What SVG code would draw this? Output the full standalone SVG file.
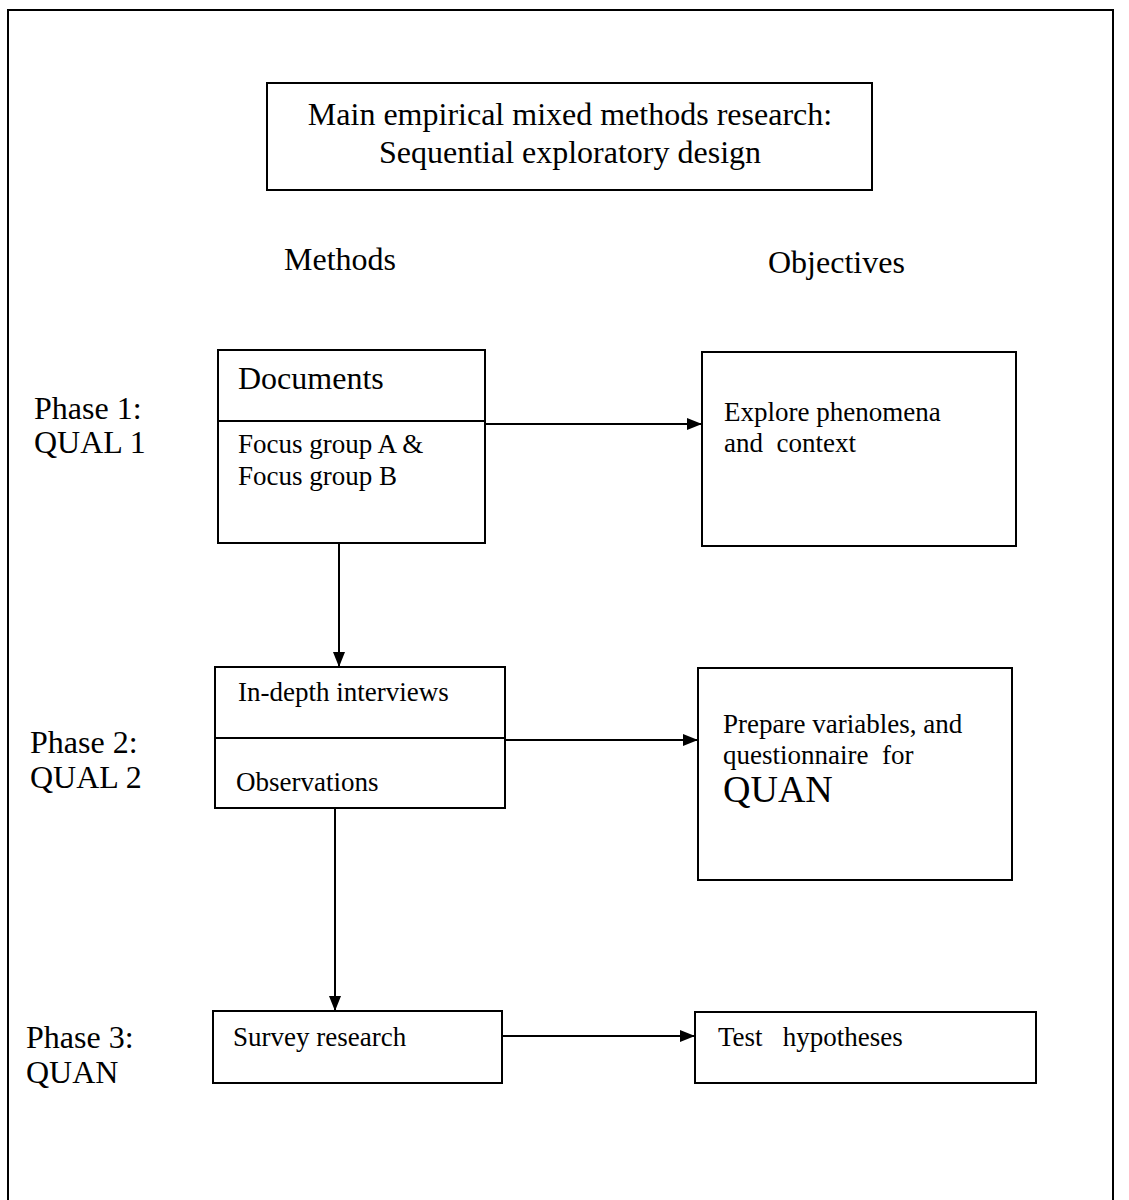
<svg xmlns="http://www.w3.org/2000/svg" width="1129" height="1200" viewBox="0 0 1129 1200">
  <defs>
    <marker id="arrow" viewBox="0 0 15 12" refX="15" refY="6" markerWidth="15" markerHeight="12" markerUnits="userSpaceOnUse" orient="auto">
      <path d="M0,0 L15,6 L0,12 Z" fill="#000"/>
    </marker>
    <style>
      text { font-family: "Liberation Serif", "Times New Roman", serif; fill: #000; }
      .box { fill: #fff; stroke: #000; stroke-width: 2; }
      .rule { stroke: #000; stroke-width: 2; }
      .edge { fill: none; stroke: #000; stroke-width: 2; marker-end: url(#arrow); }
      .big { font-size: 32px; }
      .mid { font-size: 32px; }
      .small { font-size: 27px; }
      .huge { font-size: 38px; }
    </style>
  </defs>
  <rect width="1129" height="1200" fill="#fff"/>
  <!-- outer frame, open at the bottom -->
  <path d="M8,1200 L8,10 L1113,10 L1113,1200" fill="none" stroke="#000" stroke-width="2"/>

  <g id="title">
    <rect class="box" x="267" y="83" width="605" height="107"/>
    <text class="big" x="570" y="125" text-anchor="middle">Main empirical mixed methods research:</text>
    <text class="big" x="570" y="163" text-anchor="middle">Sequential exploratory design</text>
  </g>

  <g id="headers">
    <text class="mid" x="284" y="270">Methods</text>
    <text class="mid" x="768" y="273">Objectives</text>
  </g>

  <g id="phase-labels">
    <text class="mid" x="34" y="419">Phase 1:</text>
    <text class="mid" x="34" y="453">QUAL 1</text>
    <text class="mid" x="30" y="753">Phase 2:</text>
    <text class="mid" x="30" y="788">QUAL 2</text>
    <text class="mid" x="26" y="1048">Phase 3:</text>
    <text class="mid" x="26" y="1083">QUAN</text>
  </g>

  <g id="methods-1">
    <rect class="box" x="218" y="350" width="267" height="193"/>
    <line class="rule" x1="218" y1="421" x2="485" y2="421"/>
    <text class="mid" x="238" y="389">Documents</text>
    <text class="small" x="238" y="453">Focus group A &amp;</text>
    <text class="small" x="238" y="485">Focus group B</text>
  </g>

  <g id="objective-1">
    <rect class="box" x="702" y="352" width="314" height="194"/>
    <text class="small" x="724" y="421">Explore phenomena</text>
    <text class="small" x="724" y="452" xml:space="preserve">and  context</text>
  </g>

  <g id="methods-2">
    <rect class="box" x="215" y="667" width="290" height="141"/>
    <line class="rule" x1="215" y1="738" x2="505" y2="738"/>
    <text class="small" x="238" y="701">In-depth interviews</text>
    <text class="small" x="236" y="791">Observations</text>
  </g>

  <g id="objective-2">
    <rect class="box" x="698" y="668" width="314" height="212"/>
    <text class="small" x="723" y="733">Prepare variables, and</text>
    <text class="small" x="723" y="764" xml:space="preserve">questionnaire  for</text>
    <text class="huge" x="723" y="802">QUAN</text>
  </g>

  <g id="methods-3">
    <rect class="box" x="213" y="1011" width="289" height="72"/>
    <text class="small" x="233" y="1046">Survey research</text>
  </g>

  <g id="objective-3">
    <rect class="box" x="695" y="1012" width="341" height="71"/>
    <text class="small" x="718" y="1046" xml:space="preserve">Test   hypotheses</text>
  </g>

  <g id="connectors">
    <line class="edge" x1="485" y1="424" x2="702" y2="424"/>
    <line class="edge" x1="339" y1="543" x2="339" y2="667"/>
    <line class="edge" x1="505" y1="740" x2="698" y2="740"/>
    <line class="edge" x1="335" y1="808" x2="335" y2="1011"/>
    <line class="edge" x1="502" y1="1036" x2="695" y2="1036"/>
  </g>
</svg>
